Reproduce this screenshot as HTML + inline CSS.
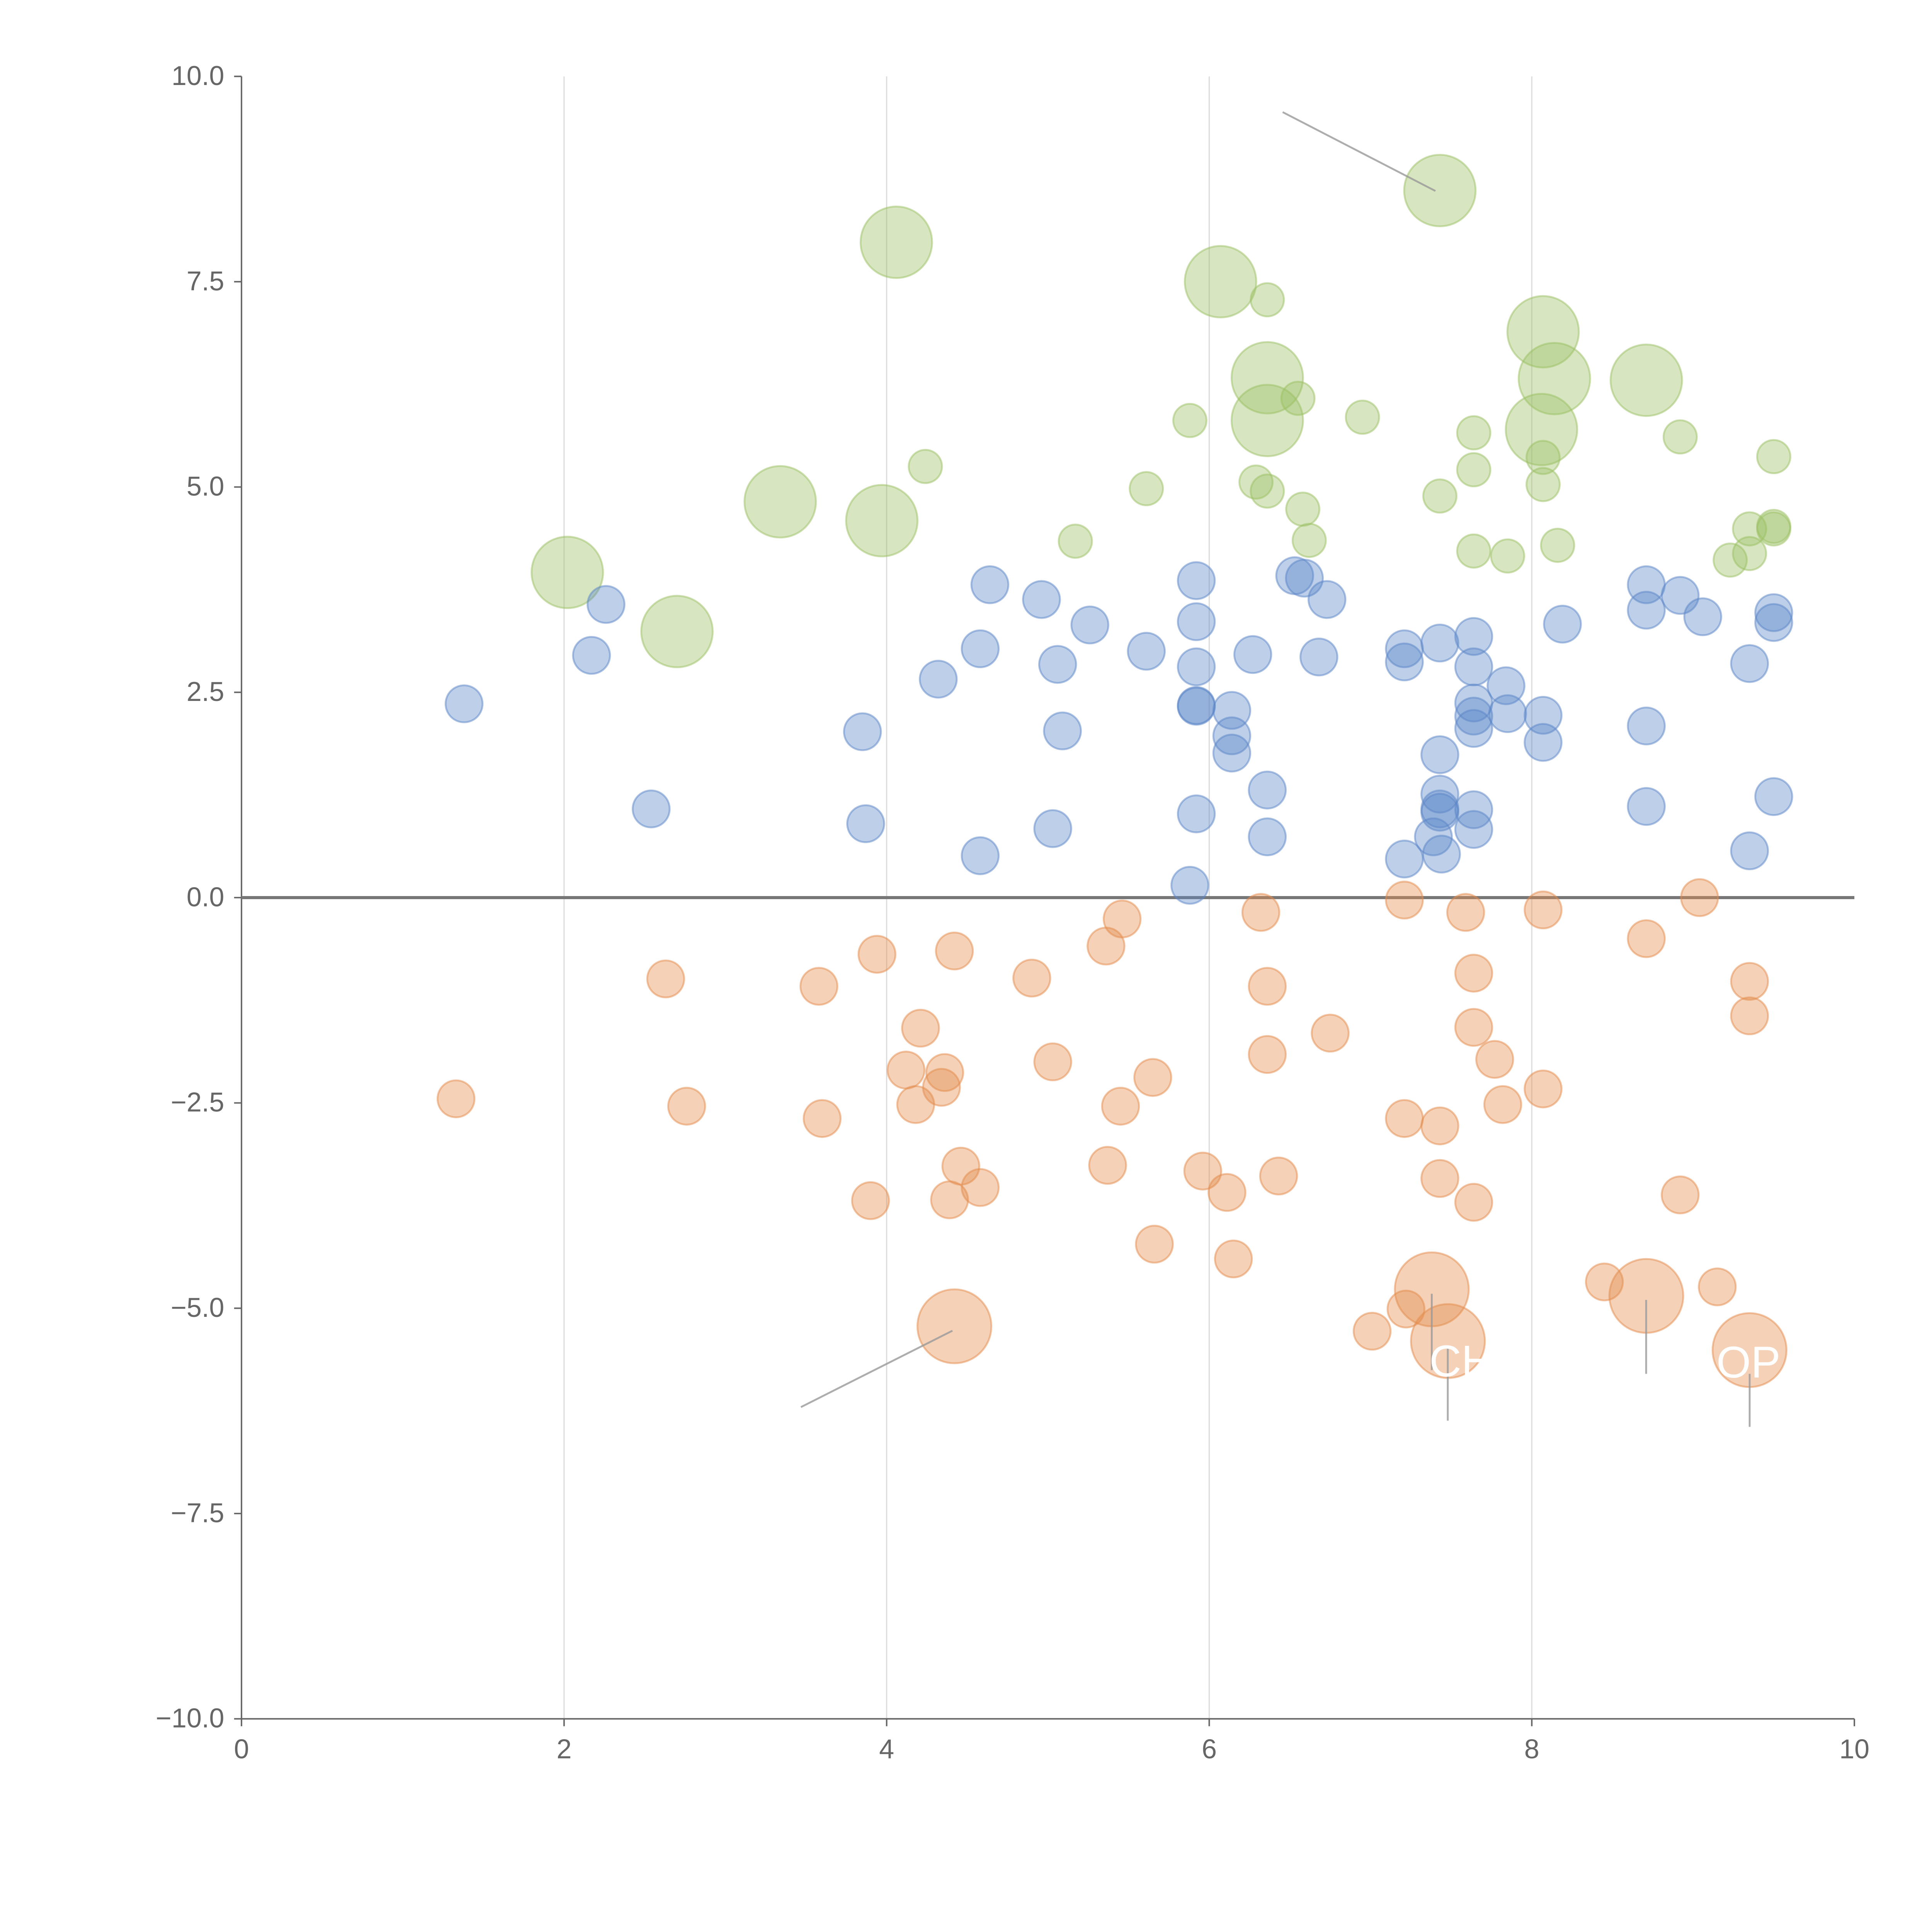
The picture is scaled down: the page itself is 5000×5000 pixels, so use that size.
<!DOCTYPE html>
<html><head><meta charset="utf-8"><style>
html,body{margin:0;padding:0;background:#fff}
svg{display:block}
text{font-family:"Liberation Sans",Arial,sans-serif}
</style></head><body>
<svg id="chart" width="5000" height="5000" viewBox="0 0 1568 1568" xmlns="http://www.w3.org/2000/svg">
<g id="grid"></g>
<g id="axes"></g>
<g id="marks"></g>
<g id="ann"></g>
</svg>
<script>
const xTicks=[0,2,4,6,8,10];
const xTickLabels=["0","2","4","6","8","10"];
const yTicks=[10,7.5,5,2.5,0,-2.5,-5,-7.5,-10];
const yTickLabels=["10.0","7.5","5.0","2.5","0.0","\u22122.5","\u22125.0","\u22127.5","\u221210.0"];
const blueX=[1.38,2.17,2.26,2.54,3.85,3.87,4.32,4.58,4.64,4.58,4.96,5.06,5.09,5.03,5.26,5.61,5.92,5.92,5.92,5.92,5.92,6.14,6.14,6.14,5.92,5.88,6.27,6.36,6.36,6.53,6.59,6.73,6.68,7.21,7.21,7.43,7.43,7.43,7.43,7.43,7.39,7.44,7.21,7.64,7.64,7.64,7.64,7.64,7.64,7.64,7.84,7.85,8.07,8.07,8.19,8.71,8.71,8.71,8.71,8.92,9.06,9.35,9.5,9.5,9.5,9.35];
const blueY=[2.36,2.95,3.57,1.08,2.02,0.9,2.66,3.03,3.81,0.51,3.63,2.84,2.03,0.84,3.32,3.0,3.86,3.36,2.81,2.34,2.33,2.28,1.97,1.76,1.02,0.15,2.96,1.31,0.74,3.92,3.89,3.63,2.93,3.03,2.87,3.1,1.74,1.26,1.08,1.04,0.74,0.53,0.47,3.18,2.81,2.37,2.21,2.06,1.07,0.83,2.58,2.24,2.22,1.89,3.33,3.81,3.5,2.09,1.11,3.68,3.42,2.85,3.47,3.35,1.23,0.57];
const orangeX=[1.33,2.63,2.76,3.58,3.6,3.94,3.9,4.12,4.21,4.18,4.36,4.34,4.42,4.46,4.39,4.58,4.9,5.03,5.36,5.46,5.37,5.45,5.65,5.66,5.96,6.11,6.15,6.32,6.36,6.36,6.43,6.75,7.21,7.21,7.43,7.43,7.22,7.01,7.59,7.64,7.64,7.77,7.82,7.64,8.07,8.07,8.45,8.71,8.92,9.04,9.15,9.35,9.35];
const orangeY=[-2.45,-0.99,-2.54,-1.08,-2.69,-0.69,-3.69,-2.1,-1.59,-2.52,-2.13,-2.31,-0.65,-3.27,-3.68,-3.53,-0.98,-2.0,-0.59,-0.26,-3.26,-2.54,-2.19,-4.22,-3.33,-3.59,-4.4,-0.18,-1.08,-1.91,-3.39,-1.65,-0.03,-2.69,-2.78,-3.42,-5.01,-5.28,-0.18,-0.92,-1.58,-1.97,-2.52,-3.71,-0.15,-2.33,-4.68,-0.5,-3.62,0,-4.74,-1.02,-1.44];
const orangeBigX=[4.42,7.38,7.48,8.71,9.35];
const orangeBigY=[-5.22,-4.77,-5.4,-4.85,-5.51];
const greenX=[4.24,5.17,5.61,5.88,6.36,6.55,6.29,6.36,6.58,6.62,6.95,7.43,7.64,7.64,7.64,7.85,8.07,8.07,8.16,8.92,9.23,9.35,9.35,9.5,9.5,9.5];
const greenY=[5.25,4.34,4.98,5.81,7.28,6.08,5.06,4.95,4.73,4.35,5.85,4.89,5.66,5.21,4.22,4.16,5.36,5.03,4.29,5.61,4.11,4.49,4.19,5.37,4.52,4.49];
const greenBigX=[2.02,2.7,3.34,3.97,4.06,6.07,6.36,6.36,7.43,8.07,8.14,8.06,8.71];
const greenBigY=[3.96,3.24,4.82,4.59,7.98,7.5,6.33,5.81,8.61,6.89,6.32,5.7,6.3];

const X0=196,X1=1505,Y0=62,Y1=1395;
const sx=v=>X0+(v-0)/(10-0)*(X1-X0);
const sy=v=>Y1-(v+10)/20*(Y1-Y0);
const NS="http://www.w3.org/2000/svg";
function mk(tag,attrs,parent){const e=document.createElementNS(NS,tag);for(const k in attrs)e.setAttribute(k,attrs[k]);parent.appendChild(e);return e;}
const grid=document.getElementById('grid'),axes=document.getElementById('axes'),marks=document.getElementById('marks'),ann=document.getElementById('ann');

xTicks.forEach((t,i)=>{
  if(t>0&&t<10){const g=mk('line',{x1:sx(t),x2:sx(t),y1:Y0,y2:Y1,stroke:'#dddddd','stroke-width':1},grid);
  
  }
  const tk=mk('line',{x1:sx(t),x2:sx(t),y1:Y1,y2:Y1+6,stroke:'#666','stroke-width':1.2},axes);
  
  
  const tx=mk('text',{x:sx(t),y:Y1+32,'text-anchor':'middle','font-size':22,fill:'#666'},axes);
  
  
  tx.textContent=xTickLabels[i];
});
yTicks.forEach((t,i)=>{
  const tk=mk('line',{x1:X0-6,x2:X0,y1:sy(t),y2:sy(t),stroke:'#666','stroke-width':1.2},axes);
  
  
  const tx=mk('text',{x:X0-14,y:sy(t)+7,'text-anchor':'end','font-size':22,fill:'#666'},axes);
  
  
  tx.textContent=yTickLabels[i];
});
const ls=mk('line',{x1:X0,x2:X0,y1:Y0,y2:Y1,stroke:'#666','stroke-width':1.2},axes);


const bs=mk('line',{x1:X0,x2:X1,y1:Y1,y2:Y1,stroke:'#666','stroke-width':1.2},axes);


const zl=mk('line',{x1:X0,x2:X1,y1:sy(0),y2:sy(0),stroke:'#777','stroke-width':2.5},axes);



function series(xs,ys,r,color,name){
  xs.forEach((x,i)=>{
    const c=mk('circle',{cx:sx(x),cy:sy(ys[i]),r:r,fill:color,'fill-opacity':0.4,stroke:color,'stroke-opacity':0.5,'stroke-width':1.5},marks);
    
    
  });
}
series(greenX,greenY,13.5,'#9cc063','green-point');
series(greenBigX,greenBigY,29,'#9cc063','green-big-point');
series(blueX,blueY,15,'#5b86c8','blue-point');
series(orangeX,orangeY,15,'#e38c4c','orange-point');
series(orangeBigX,orangeBigY,30,'#e38c4c','orange-big-point');

const lines=[[1041,91,1165,155],[650,1142,773,1080],[1162,1050,1162,1112],[1175,1092,1175,1153],[1336,1055,1336,1115],[1420,1115,1420,1158]];
lines.forEach(l=>{
  const e=mk('line',{x1:l[0],y1:l[1],x2:l[2],y2:l[3],stroke:'#999','stroke-width':1.5,'stroke-opacity':0.8},ann);
  
  
});
[[1160,1117,'CH'],[1393,1118,'OP']].forEach(a=>{
  const t=mk('text',{x:a[0],y:a[1],'font-size':36,fill:'#fff'},ann);
  
  
  t.textContent=a[2];
});
</script>
</body></html>
